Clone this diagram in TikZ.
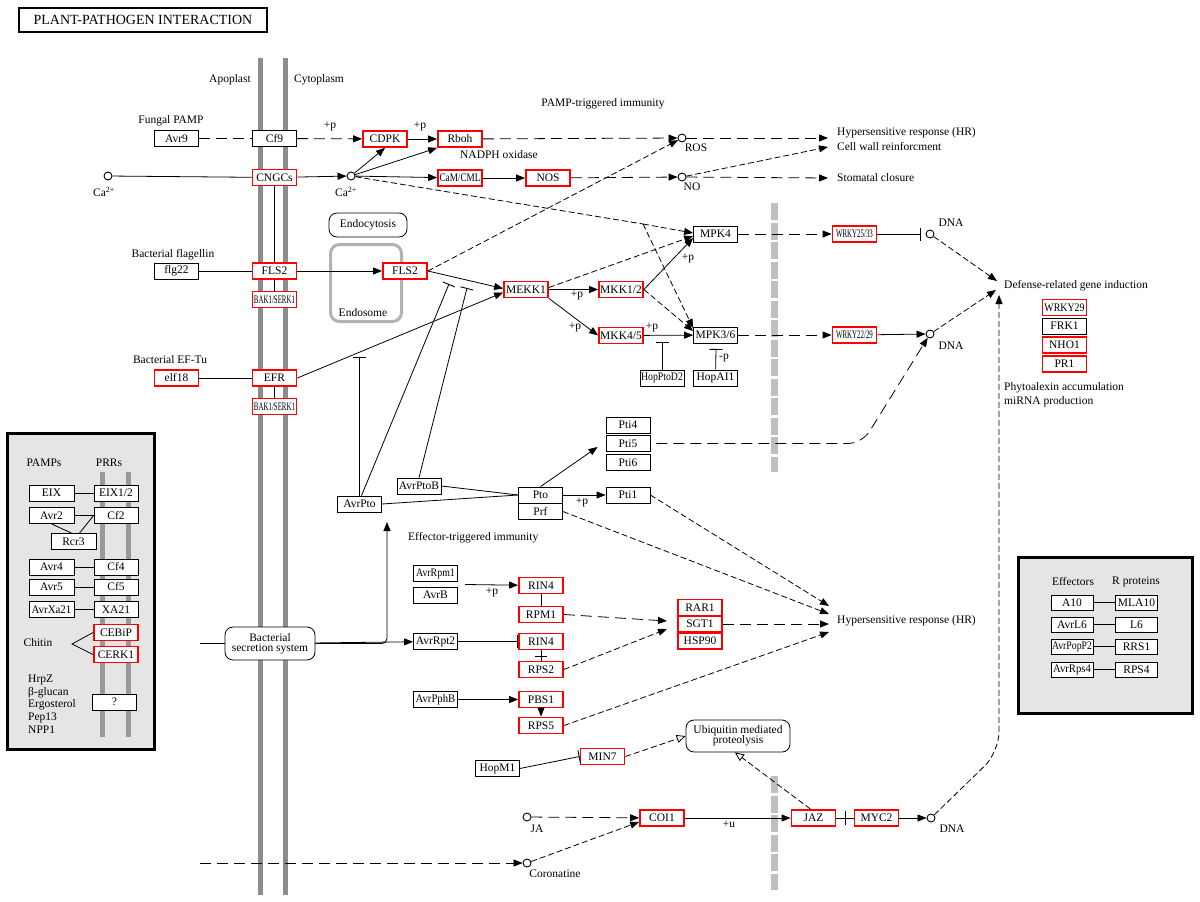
\documentclass[tikz,border=0pt]{standalone}
\usepackage{fontspec}
\setmainfont{Liberation Serif}
\usepackage{graphicx}
\usetikzlibrary{arrows.meta,calc}
\newcommand{\sqz}[2]{\scalebox{#1}[1]{#2}}
\begin{document}
\begin{tikzpicture}[x=1pt,y=-1pt,
 gene/.style={draw, rectangle, fill=white, minimum width=44pt, minimum height=16pt, inner sep=0pt, line width=0.8pt, font=\fontsize{11.5}{12}\selectfont},
 rgene/.style={gene, draw=red, line width=1.8pt},
 sgene/.style={gene, minimum width=42pt, minimum height=15pt},
 cpd/.style={circle, draw, fill=white, minimum size=8pt, inner sep=0pt, line width=0.9pt},
 lbl/.style={font=\fontsize{11.5}{13}\selectfont, inner sep=0pt},
 ln/.style={line width=0.8pt},
 arr/.style={ln, -{Triangle[length=9pt,width=7pt]}},
 dlong/.style={dash pattern=on 11pt off 6pt},
 dfine/.style={dash pattern=on 6pt off 3pt},
 inh/.style={ln, -{Bar[width=13pt,line width=0.9pt]}},
 oarr/.style={ln, -{Triangle[open,length=9pt,width=8pt,line width=0.8pt]}},
 mem/.style={fill=black!45},
 panel/.style={draw, line width=3pt, fill=black!10},
 rbox/.style={draw, rounded corners=8pt, fill=white, inner sep=0pt, line width=0.8pt, align=center, font=\fontsize{11.5}{12}\selectfont}
]
\useasboundingbox (0,0) rectangle (1200,902);
\fill[white] (0,0) rectangle (1200,902);

% title
\node[draw, line width=2pt, minimum width=248pt, minimum height=24pt, inner sep=0pt, font=\fontsize{14}{16}\selectfont] (title) at (143,20) {PLANT-PATHOGEN INTERACTION};

% membranes
\fill[mem] (258,58) rectangle (263,895);
\fill[mem] (283,58) rectangle (288,895);
\node[lbl] (tapo) at (230,80) {Apoplast};
\node[lbl] (tcyt) at (319,80) {Cytoplasm};

% nuclear envelope segments
\draw[line width=7pt, black!25, dash pattern=on 17pt off 2.5pt] (774.5,203) -- (774.5,472);
\draw[line width=7pt, black!25, dash pattern=on 17pt off 2.5pt] (774.5,776) -- (774.5,890);

% endosome
\node[draw=black!30, line width=3pt, rounded corners=9pt, minimum width=71pt, minimum height=77pt, inner sep=0pt] (endosome) at (366,283) {};
\node[lbl] (tendosome) at (363,313) {Endosome};
\node[rbox, minimum width=78pt, minimum height=24pt] (endo) at (368,225) {Endocytosis};

% left panel
\draw[panel] (7,433) rectangle (154,749);
\fill[black!40] (100,472) rectangle (105,737);
\fill[black!40] (126,472) rectangle (131,737);
\node[lbl] (tpamps) at (44,463) {PAMPs};
\node[lbl] (tprrs) at (109,463) {PRRs};
\node[gene, minimum width=45pt] (eix) at (51.5,493) {EIX};
\node[gene, minimum width=45pt] (avr2) at (51.5,515.5) {Avr2};
\node[gene, minimum width=45pt] (rcr3) at (73.5,541.5) {Rcr3};
\node[gene, minimum width=45pt] (avr4) at (51.5,567) {Avr4};
\node[gene, minimum width=45pt] (avr5) at (51.5,587) {Avr5};
\node[gene, minimum width=45pt] (avrxa) at (51.5,609.5) {\sqz{0.95}{AvrXa21}};
\node[gene] (eix12) at (116,493) {EIX1/2};
\node[gene] (cf2) at (116,515.5) {Cf2};
\node[gene] (cf4) at (116,567) {Cf4};
\node[gene] (cf5) at (116,587) {Cf5};
\node[gene] (xa21) at (116,609.5) {XA21};
\node[rgene] (cebip) at (116,632.5) {CEBiP};
\node[rgene] (cerk1) at (116,654.5) {CERK1};
\node[gene] (qbox) at (114.5,702) {?};
\node[lbl] (tchitin) at (38,643) {Chitin};
\node[lbl, anchor=west] (thrpz) at (28,680) {HrpZ};
\node[lbl, anchor=west] (tbglu) at (28,692.5) {β-glucan};
\node[lbl, anchor=west] (terg) at (28,705) {Ergosterol};
\node[lbl, anchor=west] (tpep) at (28,717.5) {Pep13};
\node[lbl, anchor=west] (tnpp) at (28,730) {NPP1};
\coordinate (chit) at (72,644);
\draw[ln] (eix) -- (eix12);
\draw[ln] (avr2) -- (cf2);
\draw[ln] (avr4) -- (cf4);
\draw[ln] (avr5) -- (cf5);
\draw[ln] (avrxa) -- (xa21);
\draw[ln] (avr2.south) -- ([xshift=-2pt]rcr3.north);
\draw[ln] (cf2.west) -- ([xshift=6pt]rcr3.north);
\draw[ln] (cebip.west) -- (chit) -- (cerk1.west);

% right panel
\draw[panel] (1018,557) rectangle (1192,713);
\node[lbl] (teff) at (1073,582) {Effectors};
\node[lbl] (trpro) at (1136,582) {R proteins};
\node[sgene] (a10) at (1072,602.5) {A10};
\node[sgene] (mla10) at (1136.5,602.5) {MLA10};
\node[sgene] (avrl6) at (1072,624.5) {AvrL6};
\node[sgene] (l6) at (1136.5,624.5) {L6};
\node[sgene] (popp2) at (1072,646.5) {\sqz{0.85}{AvrPopP2}};
\node[sgene] (rrs1) at (1136.5,646.5) {RRS1};
\node[sgene] (avrrps4) at (1072,669.5) {\sqz{0.93}{AvrRps4}};
\node[sgene] (rps4) at (1136.5,669.5) {RPS4};
\draw[ln] (a10) -- (mla10);
\draw[ln] (avrl6) -- (l6);
\draw[ln] (popp2) -- (rrs1);
\draw[ln] (avrrps4) -- (rps4);

% ===== PAMP-triggered part =====
\node[lbl] (tfung) at (171,121) {Fungal PAMP};
\node[gene] (avr9) at (176.5,138.5) {Avr9};
\node[gene] (cf9) at (274.5,138.5) {Cf9};
\node[rgene] (cdpk) at (385,139) {CDPK};
\node[rgene] (rboh) at (460,139) {Rboh};
\node[cpd] (ros) at (682,138) {};
\node[lbl] (tros) at (696,148) {ROS};
\node[lbl] (tp1) at (330,126) {+p};
\node[lbl] (tp2) at (420,126) {+p};
\node[lbl] (tpti) at (603,104) {PAMP-triggered immunity};
\node[lbl] (tnadph) at (499,155) {NADPH oxidase};

\node[rgene] (cngcs) at (274.5,177.5) {CNGCs};
\node[cpd] (ca1) at (108,176) {};
\node[lbl] (tca1) at (104,192) {Ca\textsuperscript{2+}};
\node[cpd] (ca2) at (351,176) {};
\node[lbl] (tca2) at (346,192) {Ca\textsuperscript{2+}};
\node[rgene] (cam) at (460,178) {\sqz{0.8}{CaM/CML}};
\node[rgene] (nos) at (548,178) {NOS};
\node[cpd] (no) at (682,177) {};
\node[lbl] (tno) at (692,187) {NO};

\node[lbl, anchor=west] (thr1) at (837,133) {Hypersensitive response (HR)};
\node[lbl, anchor=west] (tcw) at (837,147) {Cell wall reinforcment};
\node[lbl, anchor=west] (tsto) at (837,178) {Stomatal closure};
\coordinate (hrT) at (828,138);
\coordinate (cwall) at (828,147);
\coordinate (stom) at (828,178);

\node[lbl] (tflag) at (173,255) {Bacterial flagellin};
\node[gene] (flg22) at (176.5,271) {flg22};
\node[rgene] (fls2a) at (274.5,271) {FLS2};
\node[rgene] (fls2b) at (405,271) {FLS2};
\node[rgene] (bak1a) at (274.5,299.5) {\sqz{0.6}{BAK1/SERK1}};
\node[lbl] (tefu) at (170,360) {Bacterial EF-Tu};
\node[rgene] (elf18) at (176.5,378) {elf18};
\node[rgene] (efr) at (274.5,378) {EFR};
\node[rgene] (bak1b) at (274.5,406.5) {\sqz{0.6}{BAK1/SERK1}};

\node[rgene] (mekk1) at (526,289.5) {MEKK1};
\node[rgene] (mkk12) at (621,289.5) {MKK1/2};
\node[rgene] (mkk45) at (621,335.5) {MKK4/5};
\node[gene] (mpk4) at (715.5,234) {MPK4};
\node[gene] (mpk36) at (715.5,335) {MPK3/6};
\node[gene] (hoppto) at (662,378) {\sqz{0.85}{HopPtoD2}};
\node[gene] (hopai) at (715.5,378) {HopAI1};
\node[lbl] (tp3) at (577,295) {+p};
\node[lbl] (tp4) at (575,327) {+p};
\node[lbl] (tp5) at (688,258) {+p};
\node[lbl] (tp6) at (652,327) {+p};
\node[lbl] (tm1) at (724,358) {-p};

\node[rgene] (wrky1) at (854.5,234) {\sqz{0.6}{WRKY25/33}};
\node[rgene] (wrky2) at (854.5,335) {\sqz{0.6}{WRKY22/29}};
\node[cpd] (dna1) at (930,234) {};
\node[cpd] (dna2) at (930,334) {};
\node[lbl] (tdna1) at (951,223) {DNA};
\node[lbl] (tdna2) at (951,346) {DNA};

\node[lbl, anchor=west] (tdef) at (1004,286) {Defense-related gene induction};
\node[rgene] (wrky29) at (1064.5,307.5) {\sqz{0.86}{WRKY29}};
\node[gene] (frk1) at (1064.5,326) {FRK1};
\node[rgene] (nho1) at (1064.5,345) {NHO1};
\node[rgene] (pr1) at (1064.5,364) {PR1};
\node[lbl, anchor=west] (tphy) at (1004,388) {Phytoalexin accumulation};
\node[lbl, anchor=west] (tmir) at (1004,402) {miRNA production};
\coordinate (def1) at (997,281);
\coordinate (def2) at (996,290);
\coordinate (def3) at (999,295);

% ===== Effector-triggered part =====
\node[gene] (pti4) at (628,425) {Pti4};
\node[gene] (pti5) at (628,443.5) {Pti5};
\node[gene] (pti6) at (628,462.5) {Pti6};
\node[gene] (pti1) at (628,495) {Pti1};
\node[gene] (pto) at (540.5,495) {Pto};
\node[gene] (prf) at (540.5,511.5) {Prf};
\node[gene] (avrptob) at (419,486) {AvrPtoB};
\node[gene] (avrpto) at (359.5,504) {AvrPto};
\node[lbl] (tp7) at (582,502) {+p};
\node[lbl, anchor=west] (teti) at (408,538) {Effector-triggered immunity};

\node[rbox, minimum width=90pt, minimum height=33pt] (bss) at (270,643.5) {Bacterial\\[-2pt]secretion system};

\node[gene] (avrrpm1) at (435.5,573.5) {\sqz{0.86}{AvrRpm1}};
\node[gene] (avrb) at (435.5,595) {AvrB};
\node[rgene] (rin4a) at (541,585.5) {RIN4};
\node[rgene] (rpm1) at (541,614.5) {RPM1};
\node[gene] (avrrpt2) at (435.5,641.5) {AvrRpt2};
\node[rgene] (rin4b) at (541,641.5) {RIN4};
\node[rgene] (rps2) at (541,669.5) {RPS2};
\node[gene] (avrpphb) at (435.5,699.5) {\sqz{0.93}{AvrPphB}};
\node[rgene] (pbs1) at (541,699.5) {PBS1};
\node[rgene] (rps5) at (541,725.5) {RPS5};
\node[rgene] (rar1) at (700,607.5) {RAR1};
\node[rgene] (sgt1) at (700,624) {SGT1};
\node[rgene] (hsp90) at (700,641) {HSP90};
\node[lbl] (tp8) at (492,592) {+p};
\node[lbl, anchor=west] (thr2) at (837,621) {Hypersensitive response (HR)};
\coordinate (hrA) at (829,606);
\coordinate (hrB) at (829,614);
\coordinate (hrC) at (829,624);
\coordinate (hrD) at (829,632);
\coordinate (rsA) at (667,621);
\coordinate (rsB) at (667,629);

\node[rbox, minimum width=104pt, minimum height=32pt] (ubi) at (738,736) {Ubiquitin mediated\\[-2pt]proteolysis};
\node[rgene] (min7) at (602.5,756.5) {MIN7};
\node[gene] (hopm1) at (497.5,768.5) {HopM1};
\node[cpd] (ja) at (527,817) {};
\node[lbl] (tja) at (537,829) {JA};
\node[cpd] (coro) at (527,863) {};
\node[lbl] (tcoro) at (555,874) {Coronatine};
\node[rgene] (coi1) at (662,818) {COI1};
\node[rgene] (jaz) at (813.5,818) {JAZ};
\node[rgene] (myc2) at (876.5,818) {MYC2};
\node[cpd] (dna3) at (931,818) {};
\node[lbl] (tdna3) at (952,829) {DNA};
\node[lbl] (tu) at (729,824) {+u};

% ===== connectors: PAMP part =====
\draw[ln,dlong] (avr9) -- (cf9);
\draw[arr,dlong] (cf9) -- (cdpk);
\draw[arr] (cdpk) -- (rboh);
\draw[arr,dlong] (rboh) -- (ros);
\draw[arr,dlong] (ros) -- (hrT);
\draw[ln] (ca1) -- (cngcs);
\draw[arr] (cngcs) -- (ca2);
\draw[arr] (ca2) -- (cdpk.south);
\draw[arr] (ca2) -- (rboh.south west);
\draw[arr] (ca2) -- (cam);
\draw[arr] (cam) -- (nos);
\draw[arr,dlong] (nos) -- (no);
\draw[arr,dlong] (no) -- (stom);
\draw[arr,dfine] (no) -- (cwall);
\draw[arr,dfine] (fls2b.east) -- (ros);
\coordinate (br1) at (643,224);
\draw[ln,dfine] (ca2) -- (br1);
\draw[arr,dfine] (br1) -- ([yshift=1pt]mpk4.west);
\draw[arr,dfine] (br1) -- ([yshift=7pt]mpk36.west);

\draw[ln] (cngcs) -- (fls2a);
\draw[ln] (flg22) -- (fls2a);
\draw[arr] (fls2a) -- (fls2b);
\draw[ln] (fls2a) -- (bak1a);
\draw[ln] (elf18) -- (efr);
\draw[ln] (efr) -- (bak1b);
\draw[arr] (efr.east) -- ([yshift=-3pt]mekk1.west);
\draw[arr] (fls2b.east) -- ([yshift=1pt]mekk1.west);
\draw[arr,dfine] ([yshift=2pt]mekk1.east) -- ([yshift=-2pt]mpk4.west);
\draw[arr] (mekk1) -- (mkk12);
\draw[arr] (mekk1.south east) -- (mkk45.west);
\draw[arr] (mkk12.east) -- ([yshift=-4pt]mpk4.west);
\draw[arr,dfine] (mkk12.east) -- ([yshift=4pt]mpk36.west);
\draw[arr] (mkk45) -- (mpk36);
\coordinate (hpb) at (662,342);
\draw[inh] (hoppto) -- (hpb);
\coordinate (hab) at (716,349);
\draw[inh] (hopai) -- (hab);
\draw[arr,dlong] (mpk4) -- (wrky1);
\draw[arr,dlong] (mpk36) -- (wrky2);
\draw[inh,shorten >=5pt] (wrky1) -- (dna1);
\draw[arr] (wrky2) -- (dna2);
\draw[arr,dfine] (dna1) -- (def1);
\draw[arr,dfine] (dna2) -- (def2);
\draw[arr,dfine,rounded corners=20pt] (dna3) -- (999,752) -- (def3);
\draw[arr,dlong,rounded corners=14pt] ([xshift=6pt]pti5.east) -- (862,443.5) -- (dna2);

% ===== connectors: effector part =====
\coordinate (inh1) at (359.5,357);
\coordinate (inh2) at (449,284);
\coordinate (inh3) at (467,288);
\draw[inh] (avrpto.north) -- (inh1);
\draw[inh] ([xshift=2pt]avrpto.north) -- (inh2);
\draw[inh] (avrptob.north) -- (inh3);
\draw[ln] (avrptob.east) -- (pto.west);
\draw[ln] (avrpto.east) -- (pto.west);
\draw[arr] (pto.north) -- ([xshift=-8pt,yshift=-3.5pt]pti5.west);
\draw[arr] (pto) -- (pti1);
\draw[arr,dfine] (pti1.east) -- (hrA);
\draw[arr,dfine] (prf.east) -- (hrB);

\coordinate (bssin) at (200,643.5);
\coordinate (bssup) at (387,522);
\draw[ln] (bssin) -- (bss);
\draw[arr] (bss) -- (avrrpt2);
\draw[arr,rounded corners=5pt] (bss.east) -- (387,643.5) -- (bssup);

\coordinate (rpmsrc) at (465,584.5);
\draw[arr] (rpmsrc) -- (rin4a);
\draw[ln] (rin4a) -- (rpm1);
\draw[arr,dlong] (rpm1.east) -- (rsA);
\draw[inh] (avrrpt2) -- (rin4b);
\draw[ln] (rin4b) -- (rps2);
\draw[ln] (535,656) -- (547,656);
\draw[arr,dfine] (rps2.east) -- (rsB);
\draw[arr] (avrpphb) -- (pbs1);
\draw[arr] (pbs1) -- (rps5);
\draw[arr,dfine] (rps5.east) -- (hrD);
\draw[arr,dlong] (sgt1.east) -- (hrC);

\draw[inh] (hopm1.east) -- (min7.west);
\draw[oarr,dfine] (min7.east) -- (ubi.west);
\draw[oarr,dfine] ([xshift=-3pt]jaz.north) -- ([xshift=-3pt]ubi.south);
\draw[arr,dlong] (ja) -- (coi1);
\coordinate (corin) at (200,863);
\draw[arr,dlong] (corin) -- (coro);
\draw[arr,dfine] (coro) -- ([yshift=-4pt]coi1.west);
\draw[arr] (coi1) -- (jaz);
\draw[ln] (jaz) -- (myc2);
\draw[ln] (845,811) -- (845,825);
\draw[arr] (myc2) -- (dna3);
\end{tikzpicture}
\end{document}
